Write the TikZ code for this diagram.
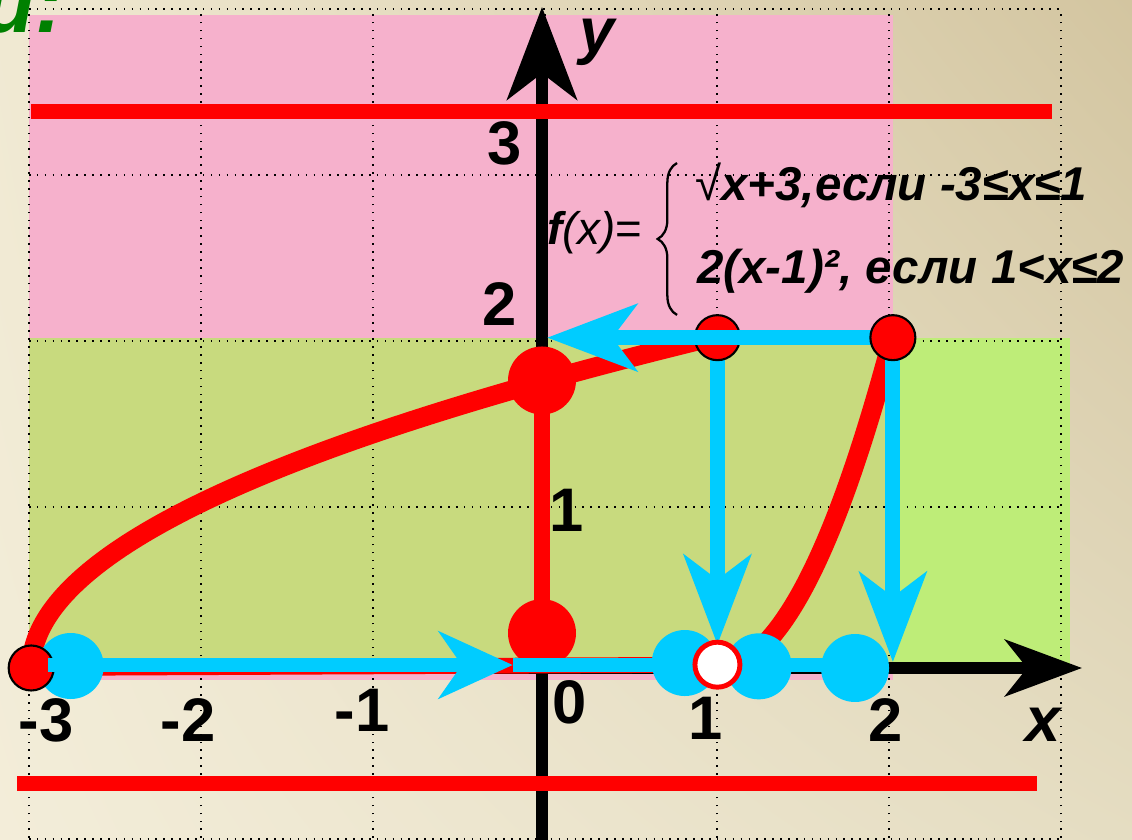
\documentclass[tikz,border=0pt]{standalone}
\usepackage{fontspec}
\setmainfont{Liberation Sans}
\usepackage{tikz}
\usetikzlibrary{arrows.meta,shadings,decorations.pathreplacing}
\definecolor{bgcream}{RGB}{243,237,217}
\definecolor{bgpale}{RGB}{240,233,210}
\definecolor{bgtan}{RGB}{211,197,160}
\definecolor{bgmid}{RGB}{229,221,194}
\definecolor{zonepink}{RGB}{246,177,204}
\definecolor{zoneolive}{RGB}{200,218,126}
\definecolor{zonegreen}{RGB}{190,237,120}
\definecolor{graphred}{RGB}{255,0,0}
\definecolor{projblue}{RGB}{0,204,255}
\definecolor{titlegreen}{RGB}{0,128,0}

\begin{document}
\begin{tikzpicture}[x=3.44cm, y=3.32cm,
    gridline/.style={line width=0.9pt, dash pattern=on 0.9pt off 3.6pt},
    bound/.style={graphred, line width=8.5pt},
    axisline/.style={line width=6.8pt},
    graph/.style={graphred, line width=11pt},
    proj/.style={projblue, line width=8.5pt},
    projtip/.style={-{Stealth[length=51pt, width=38pt, inset=14pt]}},
    ticklbl/.style={inner sep=0pt, font=\fontsize{35}{35}\selectfont\bfseries},
    axlbl/.style={inner sep=0pt, font=\fontsize{36}{36}\selectfont\bfseries\itshape},
    caselbl/.style={inner sep=0pt, anchor=base west, font=\fontsize{27}{30}\selectfont\bfseries\itshape},
    dotred/.style={fill=graphred, draw=black, line width=1.2pt}]
    \useasboundingbox (-3.1512,-1.0361) rectangle (3.4302,4.0241);
    \shade[upper left=bgpale, upper right=bgtan, lower left=bgcream, lower right=bgmid]
      (-3.1512,-1.0361) rectangle (3.4302,4.0241);
    \fill[zonepink] (-2.983,-0.072) rectangle (2.04,3.934);
    \fill[zoneolive] (-2.983,0) rectangle (2.04,1.988);
    \fill[zonegreen] (2.04,0) rectangle (3.07,1.988);
    \foreach \k in {-3,...,3}
      \draw[gridline] (\k+0.017,-1.024) -- (\k+0.017,3.976);
    \foreach \k in {-1,...,4}
      \draw[gridline] (-2.983,\k-0.03) -- (3.035,\k-0.03);

    \coordinate (xa) at (-3.05,0);
    \coordinate (xb) at (3.14,0);
    \coordinate (ya) at (0,-1.05);
    \coordinate (yb) at (0,3.982);
    \draw[axisline, -{Stealth[length=43.7pt, width=32pt, inset=12.5pt]}] (xa) -- (xb);
    \draw[axisline, -{Stealth[length=52.7pt, width=39.7pt, inset=15pt]}] (ya) -- (yb);
    \draw[bound] (-2.97,3.355) -- (2.965,3.355);
    \draw[bound] (-3.05,-0.693) -- (2.88,-0.693);

    \coordinate (Pa) at (-2.97,0);
    \coordinate (Pb) at (0,1.732);
    \coordinate (Pc) at (1.02,1.99);
    \coordinate (Pd) at (2.04,1.99);
    \coordinate (Pe) at (1.02,0.02);
    \coordinate (Pf) at (0,0.21);
    \draw[graphred, line width=9pt] (Pa) -- (Pe);
    \draw[graph] plot[domain=0:2, samples=60, smooth] ({-2.97+0.9975*\x*\x},\x);
    \draw[graph] plot[domain=0:1, samples=40, smooth] ({1.02+1.02*\x},{2*\x*\x});
    \draw[graphred, line width=9pt] (Pb) -- (Pf);

    \fill[projblue] (-2.74,0.012) circle (0.66cm);
    \fill[projblue] (0.83,0.03) circle (0.66cm);
    \fill[projblue] (1.26,0.01) circle (0.66cm);
    \fill[projblue] (1.82,0) circle (0.68cm);
    \draw[dotred] (Pa) circle (0.45cm);
    \fill[graphred] (Pb) circle (0.68cm);
    \fill[graphred] (Pf) circle (0.68cm);

    \coordinate (Tc) at (1.02,0.14);
    \coordinate (Td) at (2.04,0.036);
    \coordinate (Tb) at (0.03,1.99);
    \coordinate (Ba) at (-2.87,0.018);
    \coordinate (Bm) at (-0.17,0.018);
    \coordinate (Bb) at (1.82,0.018);
    \draw[proj, projtip] (Pc) -- (Tc);
    \draw[proj, projtip] (Pd) -- (Td);
    \draw[dotred] (Pc) circle (0.45cm);
    \draw[proj, projtip] (Pd) -- (Tb);
    \draw[proj, -{Stealth[length=42pt, width=38pt, inset=13pt]}] (Ba) -- (Bm);
    \draw[proj] (Bm) -- (Bb);
    \draw[dotred] (Pd) circle (0.45cm);
    \draw[graphred, fill=white, line width=2.8pt] (Pe) circle (0.45cm);

    \node[ticklbl] (lm3) at (-2.884,-0.313) {-3};
    \node[ticklbl] (lm2) at (-2.058,-0.313) {-2};
    \node[ticklbl] (lm1) at (-1.047,-0.253) {-1};
    \node[ticklbl] (l0) at (0.163,-0.205) {0};
    \node[ticklbl] (lx1) at (0.953,-0.301) {1};
    \node[ticklbl] (lx2) at (2.0,-0.313) {2};
    \node[ticklbl] (ly1) at (0.145,0.952) {1};
    \node[ticklbl] (ly2) at (-0.244,2.193) {2};
    \node[ticklbl] (ly3) at (-0.215,3.163) {3};
    \node[axlbl] (xlbl) at (2.913,-0.343) {x};
    \node[axlbl] (ylbl) at (0.320,3.771) {y};

    \node[inner sep=0pt, anchor=west, font=\fontsize{26}{30}\selectfont] (fx) at (0.029,2.62)
      {{\bfseries\itshape f}{\itshape (x)}=};
    \coordinate (bra) at (0.785,2.127);
    \coordinate (brb) at (0.785,3.042);
    \draw[line width=1.3pt, decorate, decoration={brace, amplitude=11pt, aspect=0.5}] (bra) -- (brb);
    \node[caselbl] (caseone) at (0.890,2.819) {{\mdseries\upshape √}x+3,если -3≤x≤1};
    \node[caselbl] (casetwo) at (0.901,2.319) {2(x-1)², если 1<x≤2};
    \node[anchor=base east, inner sep=0pt, text=titlegreen,
      font=\fontsize{48}{48}\selectfont\bfseries\itshape] (title) at (-2.78,3.83) {и:};
  \end{tikzpicture}
\end{document}
